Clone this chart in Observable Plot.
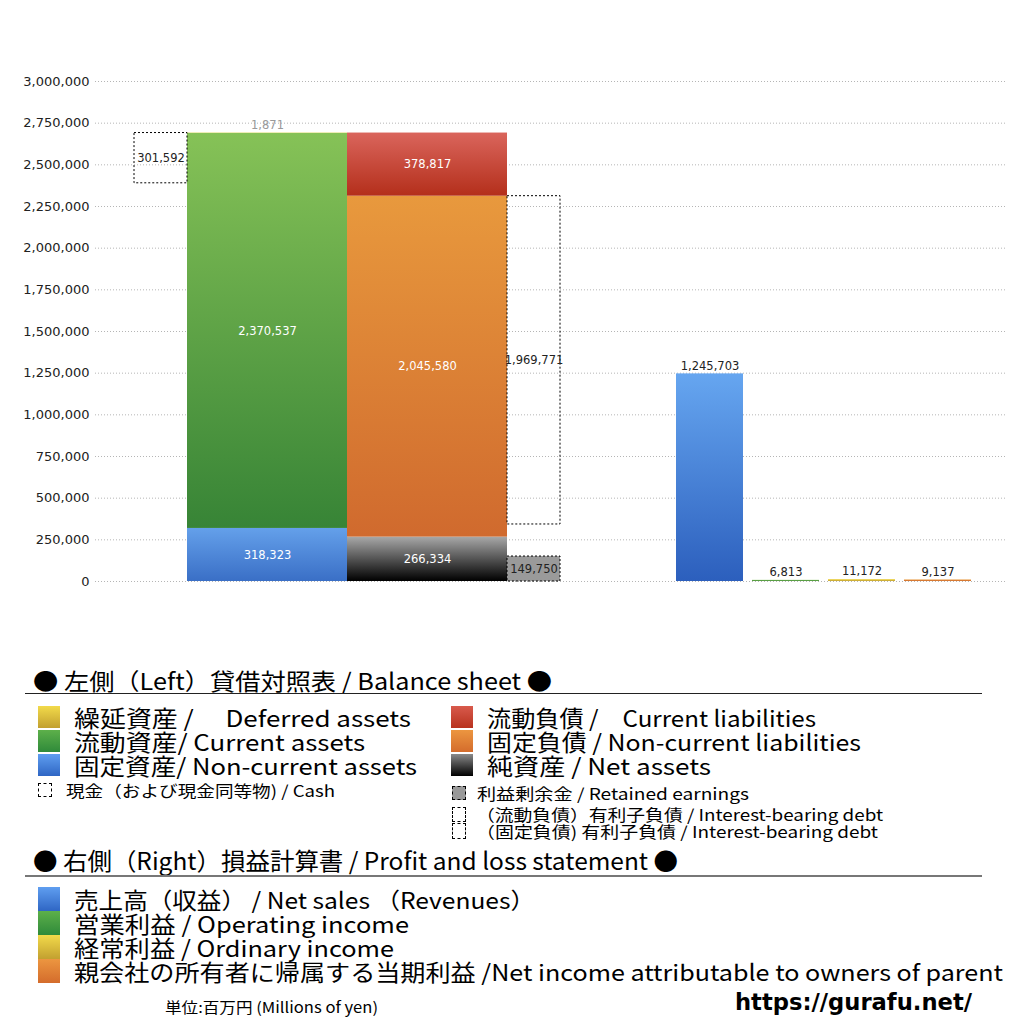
<!DOCTYPE html>
<html>
<head>
<meta charset="utf-8">
<script src="https://cdn.jsdelivr.net/npm/d3@7"></script>
<script src="https://cdn.jsdelivr.net/npm/@observablehq/plot@0.6"></script>
<style>
  html, body { margin: 0; padding: 0; background: #fff; }
  body { width: 1024px; height: 1024px; position: relative; overflow: hidden;
         font-family: "Noto Sans CJK JP", "Noto Sans", sans-serif; color: #000; }
  #chart { position: absolute; left: 0; top: 0; }
  .abs { position: absolute; white-space: nowrap; transform-origin: left center; }
  .sw { position: absolute; }
  .dash { border: 1px dashed #000; box-sizing: border-box; }
</style>
</head>
<body>
<div id="chart"></div>
<div id="legend"></div>
<script>
// ---------- data ----------
const yTicks = [0, 250000, 500000, 750000, 1000000, 1250000, 1500000, 1750000, 2000000, 2250000, 2500000, 2750000, 3000000];

const assetLabels = ["固定資産", "流動資産", "繰延資産"];
const assetValues = [318323, 2370537, 1871];

const liabLabels = ["純資産", "固定負債", "流動負債"];
const liabValues = [266334, 2045580, 378817];

const cashValue = 301592;
const retainedEarnings = 149750;
const interestBearingDebt = 1969771;

const plLabels = ["売上高", "営業利益", "経常利益", "当期利益"];
const plValues = [1245703, 6813, 11172, 9137];

// ---------- styles / layout ----------
const assetFills = ["url(#gBlue)", "url(#gGreen)", "url(#gYellow)"];
const liabFills = ["url(#gBlack)", "url(#gOrange)", "url(#gRed)"];
const plFills = ["url(#gBlue2)", "url(#gGreen)", "url(#gYellow)", "url(#gOrange)"];

const bsStart = 92, bsWidth = 160, sideWidth = 53;
const plStart = 581, plStep = 76, plWidth = 67;
const fmt = d3.format(",");
const numFont = "'DejaVu Sans', sans-serif";

function stack(labels, values, fills, x1) {
  let acc = 0;
  return labels.map((label, i) => {
    const s = {label, value: values[i], y1: acc, y2: acc + values[i], x1, x2: x1 + bsWidth, fill: fills[i]};
    acc += values[i];
    return s;
  });
}
const assetSegs = stack(assetLabels, assetValues, assetFills, bsStart);
const liabSegs = stack(liabLabels, liabValues, liabFills, bsStart + bsWidth);
const totalAssets = d3.sum(assetValues);
const debtTop = liabValues[0] + liabValues[1];

const cashBox = {x1: bsStart - sideWidth, x2: bsStart, y1: totalAssets - cashValue, y2: totalAssets, value: cashValue};
const debtBox = {x1: bsStart + 2 * bsWidth, x2: bsStart + 2 * bsWidth + sideWidth, y1: debtTop - interestBearingDebt, y2: debtTop, value: interestBearingDebt};
const reBox = {x1: bsStart + 2 * bsWidth, x2: bsStart + 2 * bsWidth + sideWidth, y1: 0, y2: retainedEarnings, value: retainedEarnings};

const plBars = plLabels.map((label, i) => ({label, value: plValues[i], x1: plStart + i * plStep, x2: plStart + i * plStep + plWidth, y1: 0, y2: plValues[i], fill: plFills[i]}));

const cx = d => (d.x1 + d.x2) / 2;
const cy = d => (d.y1 + d.y2) / 2;

const marks = [
  Plot.gridY(yTicks, {stroke: "#b5b5b5", strokeOpacity: 1, strokeDasharray: "1,2"}),
  Plot.axisY(yTicks, {tickSize: 0, tickPadding: 6, tickFormat: fmt, fontSize: 13, fill: "#222", fontFamily: numFont})
];
for (const s of [...assetSegs, ...liabSegs, ...plBars]) {
  marks.push(Plot.rect([s], {x1: "x1", x2: "x2", y1: "y1", y2: "y2", fill: s.fill}));
}
marks.push(
  Plot.rect([cashBox, debtBox], {x1: "x1", x2: "x2", y1: "y1", y2: "y2", fill: "none", stroke: "#000", strokeWidth: 1, strokeDasharray: "2,2"}),
  Plot.rect([reBox], {x1: "x1", x2: "x2", y1: "y1", y2: "y2", fill: "#9a9a9a", stroke: "#000", strokeWidth: 1, strokeDasharray: "2,2"}),
  Plot.text([...assetSegs, ...liabSegs].filter(d => d.value > 100000), {x: cx, y: cy, text: d => fmt(d.value), fill: "white", fontSize: 11.5, fontFamily: numFont}),
  Plot.text([assetSegs[2]], {x: cx, y: "y2", dy: -8, text: d => fmt(d.value), fill: "#999", fontSize: 11.5, fontFamily: numFont}),
  Plot.text([cashBox, debtBox, reBox], {x: cx, y: cy, text: d => fmt(d.value), fill: "#222", fontSize: 11.5, fontFamily: numFont}),
  Plot.text(plBars, {x: cx, y: "y2", dy: -8, text: d => fmt(d.value), fill: "#222", fontSize: 11.5, fontFamily: numFont})
);

const chart = Plot.plot({
  width: 1024, height: 600,
  marginTop: 81, marginBottom: 19, marginLeft: 95, marginRight: 19,
  x: {type: "linear", domain: [0, 910], axis: null},
  y: {domain: [0, 3000000], axis: null},
  style: {fontFamily: "'Noto Sans CJK JP', 'Noto Sans', sans-serif", fontSize: "12px", background: "white"},
  marks
});

// gradients
const grads = {
  gBlue: ["#64a0ea", "#3a6fc6"],
  gBlue2: ["#66a6f0", "#2c5fbd"],
  gGreen: ["#86c257", "#378436"],
  gYellow: ["#f2da4a", "#c2a030"],
  gRed: ["#da655c", "#b42f1b"],
  gOrange: ["#e8993d", "#d06a2e"],
  gBlack: ["#a8a8a8", "#000000"]
};
const ns = "http://www.w3.org/2000/svg";
const defs = document.createElementNS(ns, "defs");
for (const [id, [c1, c2]] of Object.entries(grads)) {
  const g = document.createElementNS(ns, "linearGradient");
  g.setAttribute("id", id); g.setAttribute("x1", "0"); g.setAttribute("y1", "0"); g.setAttribute("x2", "0"); g.setAttribute("y2", "1");
  for (const [off, c] of [["0", c1], ["1", c2]]) {
    const st = document.createElementNS(ns, "stop");
    st.setAttribute("offset", off); st.setAttribute("stop-color", c);
    g.appendChild(st);
  }
  defs.appendChild(g);
}
chart.insertBefore(defs, chart.firstChild);
document.getElementById("chart").appendChild(chart);

// ---------- legend ----------
const swatchCss = {
  yellow: "linear-gradient(#f2da4a,#c2a030)",
  green: "linear-gradient(#5db04a,#2f8a3a)",
  blue: "linear-gradient(#5f9ef0,#2f66c4)",
  red: "linear-gradient(#d85a4c,#b8321e)",
  orange: "linear-gradient(#ec9640,#d46c2c)",
  black: "linear-gradient(#8a8a8a,#000)"
};
const bsLeft = [["yellow", "繰延資産 /　 Deferred assets"], ["green", "流動資産/ Current assets"], ["blue", "固定資産/ Non-current assets"]];
const bsRight = [["red", "流動負債 /　Current liabilities"], ["orange", "固定負債 / Non-current liabilities"], ["black", "純資産 / Net assets"]];
const plLegend = [["blue", "売上高（収益） / Net sales （Revenues）"], ["green", "営業利益 / Operating income"], ["yellow", "経常利益 / Ordinary income"], ["orange", "親会社の所有者に帰属する当期利益 /Net income attributable to owners of parent"]];

const L = document.getElementById("legend");
function add(html, css, width) {
  const d = document.createElement("div");
  d.className = "abs";
  d.textContent = html;
  Object.assign(d.style, css);
  L.appendChild(d);
  if (width) d.style.transform = `scaleX(${width / d.getBoundingClientRect().width})`;
  return d;
}
function box(css, cls) {
  const d = document.createElement("div");
  d.className = "sw" + (cls ? " " + cls : "");
  Object.assign(d.style, css);
  L.appendChild(d);
}

add("● 左側（Left）貸借対照表 / Balance sheet ●", {left: "33px", top: "667px", fontSize: "23px", lineHeight: "26px"}, 519);
box({left: "25px", top: "693px", width: "957px", height: "0", borderTop: "1.5px solid #222"});

const bsLeftW = [337, 291, 343];
const bsRightW = [329, 374, 224];
bsLeft.forEach(([c, t], i) => {
  const cyy = 717 + i * 24;
  box({left: "38px", top: (cyy - 11) + "px", width: "22px", height: "22px", background: swatchCss[c]});
  add(t, {left: "74px", top: (cyy - 12) + "px", fontSize: "22.5px", lineHeight: "24px"}, bsLeftW[i]);
});
bsRight.forEach(([c, t], i) => {
  const cyy = 717 + i * 24;
  box({left: "451px", top: (cyy - 11) + "px", width: "22px", height: "22px", background: swatchCss[c]});
  add(t, {left: "487px", top: (cyy - 12) + "px", fontSize: "22.5px", lineHeight: "24px"}, bsRightW[i]);
});
box({left: "38px", top: "783px", width: "14px", height: "14px"}, "dash");
add("現金（および現金同等物) / Cash", {left: "66px", top: "780px", fontSize: "16px", lineHeight: "20px"}, 269);
box({left: "452px", top: "786px", width: "14px", height: "14px", background: "#999"}, "dash");
add("利益剰余金 / Retained earnings", {left: "477px", top: "783px", fontSize: "16px", lineHeight: "20px"}, 272);
box({left: "452px", top: "807px", width: "14px", height: "15px"}, "dash");
add("（流動負債）有利子負債 / Interest-bearing debt", {left: "476px", top: "806px", fontSize: "16px", lineHeight: "17px"}, 407);
box({left: "452px", top: "823px", width: "14px", height: "16px"}, "dash");
add("（固定負債) 有利子負債 / Interest-bearing debt", {left: "476px", top: "823px", fontSize: "16px", lineHeight: "17px"}, 402);

add("● 右側（Right）損益計算書 / Profit and loss statement ●", {left: "33px", top: "847px", fontSize: "24px", lineHeight: "26px"}, 645);
box({left: "25px", top: "875px", width: "957px", height: "0", borderTop: "2px solid #777"});

const plW = [461, 335, 320, 929];
plLegend.forEach(([c, t], i) => {
  const cyy = 899 + i * 24;
  box({left: "38px", top: (cyy - 12) + "px", width: "22px", height: "24px", background: swatchCss[c]});
  add(t, {left: "74px", top: (cyy - 12) + "px", fontSize: "22.5px", lineHeight: "24px"}, plW[i]);
});
add("単位:百万円 (Millions of yen)", {left: "165px", top: "998px", fontSize: "15px", lineHeight: "18px"}, 213);
add("https://gurafu.net/", {left: "735px", top: "988px", fontSize: "23px", lineHeight: "28px", fontWeight: "bold", fontFamily: "'DejaVu Sans', sans-serif"}, 237);
</script>
</body>
</html>
